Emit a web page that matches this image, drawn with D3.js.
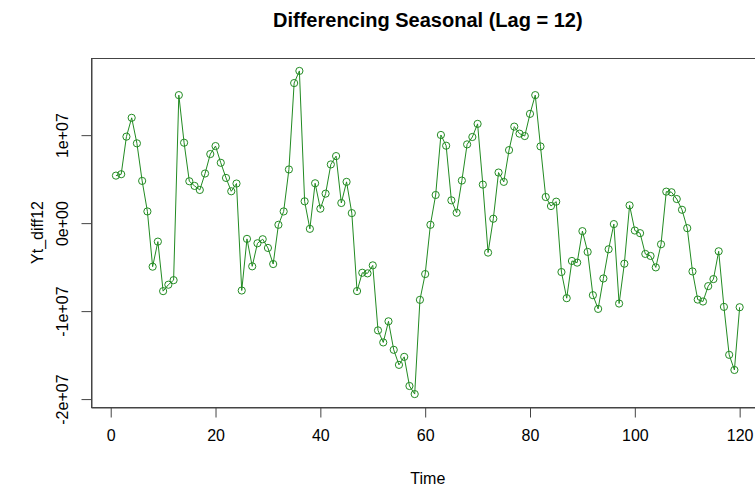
<!DOCTYPE html>
<html>
<head>
<meta charset="utf-8">
<script src="https://cdn.jsdelivr.net/npm/d3@7"></script>
<style>
  body { margin: 0; background: #fff; }
  svg text { font-family: "Liberation Sans", Arial, sans-serif; fill: #000; }
</style>
</head>
<body>
<div id="viz_container"></div>
<script>
// observations (time index) and the seasonally differenced series, in millions
const time = d3.range(1, 121);
const ytDiff12 = [
   5.40,  5.56,  9.83, 11.97,  9.07,  4.80,  1.33, -4.95, -2.10, -7.73,
  -7.00, -6.48, 14.55,  9.14,  4.76,  4.23,  3.77,  5.64,  7.85,  8.76,
   6.86,  5.14,  3.62,  4.50, -7.66, -1.79, -4.91, -2.29, -1.83, -2.82,
  -4.65, -0.19,  1.33,  6.10, 15.92, 17.30,  2.48, -0.65,  4.53,  1.64,
   3.35,  6.67,  7.62,  2.29,  4.69,  1.14, -7.72, -5.64, -5.71, -4.80,
 -12.19,-13.56,-11.16,-14.40,-16.11,-15.20,-18.51,-19.43, -8.72, -5.79,
  -0.19,  3.20, 10.02,  8.80,  2.59,  1.18,  4.84,  8.95,  9.79, 11.28,
   4.38, -3.35,  0.50,  5.75,  4.69,  8.30, 10.97, 10.17,  9.90, 12.42,
  14.55,  8.72,  2.97,  1.94,  2.44, -5.56, -8.53, -4.30, -4.49, -0.91,
  -3.27, -8.19, -9.75, -6.29, -2.97, -0.11, -9.14, -4.61,  2.02, -0.84,
  -1.14, -3.50, -3.73, -5.03, -2.40,  3.58,  3.51,  2.74,  1.52, -0.57,
  -5.49, -8.69, -8.91, -7.16, -6.36, -3.20, -9.52,-14.97,-16.69, -9.56
];

// axis ticks
const xTicks = [0, 20, 40, 60, 80, 100, 120];
const yTicks = [-2e7, -1e7, 0, 1e7];
const yTickLabels = ["-2e+07", "-1e+07", "0e+00", "1e+07"];

const data = time.map((t, i) => ({t: t, v: ytDiff12[i] * 1e6}));

// canvas and plot box (R-like margins)
const W = 755, H = 487;
const box = {left: 91, top: 58, right: 764.6, bottom: 407};
const col = "#228B22";

const svg = d3.select("#viz_container")
  .append("svg")
    .attr("width", W)
    .attr("height", H);

// R pads the data range by 4% on each side
const pad = (ext) => { const d = (ext[1] - ext[0]) * 0.04; return [ext[0] - d, ext[1] + d]; };

const xScale = d3.scaleLinear()
  .domain(pad(d3.extent(data, d => d.t)))
  .range([box.left, box.right]);

const yScale = d3.scaleLinear()
  .domain(pad(d3.extent(data, d => d.v)))
  .range([box.bottom, box.top]);

// plot box
svg.append("rect")
  .attr("x", box.left + 0.5)
  .attr("y", box.top + 0.5)
  .attr("width", box.right - box.left)
  .attr("height", box.bottom - box.top)
  .attr("fill", "none")
  .attr("stroke", "#444")
  .attr("stroke-width", 1);

// x axis
svg.append("g")
  .attr("transform", `translate(0, ${box.bottom + 0.5})`)
  .call(d3.axisBottom(xScale).tickValues(xTicks).tickSize(10).tickPadding(12).tickSizeOuter(0))
  .call(g => g.selectAll("path, line").attr("stroke", "#444"))
  .call(g => g.selectAll("text").style("font-size", "16px").attr("fill", "#000"));

// y axis with rotated labels
const yAxis = svg.append("g")
  .attr("transform", `translate(${box.left + 0.5}, 0)`)
  .call(d3.axisLeft(yScale).tickValues(yTicks).tickSize(10).tickSizeOuter(0)
    .tickFormat((d, i) => yTickLabels[i]))
  .call(g => g.selectAll("path, line").attr("stroke", "#444"));

yAxis.selectAll("text")
  .attr("x", 0).attr("dy", null)
  .attr("text-anchor", "middle")
  .attr("transform", "translate(-24,0) rotate(-90)")
  .attr("y", 0)
  .style("font-size", "16px")
  .attr("fill", "#000");

// series line
svg.append("path")
  .datum(data)
  .attr("fill", "none")
  .attr("stroke", col)
  .attr("stroke-width", 1)
  .attr("d", d3.line().x(d => xScale(d.t)).y(d => yScale(d.v)));

// open circles
svg.selectAll("circle")
  .data(data)
  .join("circle")
    .attr("cx", d => xScale(d.t))
    .attr("cy", d => yScale(d.v))
    .attr("r", 3.6)
    .attr("fill", "none")
    .attr("stroke", col)
    .attr("stroke-width", 1);

// title
svg.append("text")
  .attr("x", (box.left + box.right) / 2)
  .attr("y", 27)
  .attr("text-anchor", "middle")
  .style("font-size", "20px")
  .style("font-weight", "bold")
  .text("Differencing Seasonal (Lag = 12)");

// x label
svg.append("text")
  .attr("x", (box.left + box.right) / 2)
  .attr("y", 484)
  .attr("text-anchor", "middle")
  .style("font-size", "16px")
  .text("Time");

// y label
svg.append("text")
  .attr("transform", `translate(43, ${(box.top + box.bottom) / 2}) rotate(-90)`)
  .attr("text-anchor", "middle")
  .style("font-size", "16px")
  .text("Yt_diff12");
</script>
</body>
</html>
